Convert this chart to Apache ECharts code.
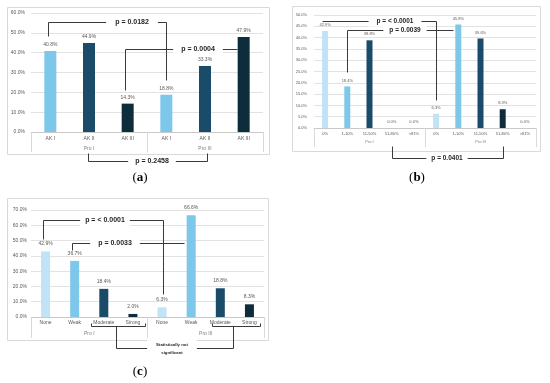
<!DOCTYPE html>
<html><head><meta charset="utf-8">
<script src="https://cdn.jsdelivr.net/npm/echarts@6/dist/echarts.min.js"></script>
<style>html,body{margin:0;padding:0;background:#fff}#c{width:550px;height:383px}</style>
</head><body><div id="c"></div>
<script>
// ---------- data ----------
const categoriesA = ['AK I','AK II','AK III','AK I','AK II','AK III'];
const groupsA = ['Pro I','Pro III'];
const valuesA = [40.8, 44.9, 14.3, 18.8, 33.3, 47.9];
const yTicksA = [0,10,20,30,40,50,60];

const categoriesB = ['0%','1-10%','11-50%','51-80%','>81%','0%','1-10%','11-50%','51-80%','>81%'];
const groupsB = ['Pro I','Pro III'];
const valuesB = [42.9, 18.4, 38.8, 0.0, 0.0, 6.3, 45.8, 39.6, 8.3, 0.0];
const yTicksB = [0,5,10,15,20,25,30,35,40,45,50];

const categoriesC = ['None','Weak','Moderate','Strong','None','Weak','Moderate','Strong'];
const groupsC = ['Pro I','Pro III'];
const valuesC = [42.9, 36.7, 18.4, 2.0, 6.3, 66.6, 18.8, 8.3];
const yTicksC = [0,10,20,30,40,50,60,70];

const pTextsA = ['p = 0.0182','p = 0.0004','p = 0.2458'];
const pTextsB = ['p = < 0.0001','p = 0.0039','p = 0.0401'];
const pTextsC = ['p = < 0.0001','p = 0.0033','Statistically not\nsignificant'];
const panelLetters = ['a','b','c'];

// ---------- styles ----------
const SH = {pale:'#c0e3f5', sky:'#7dc7ea', mid:'#1a4b69', dark:'#0d2c3c'};
const shadeA = {'AK I':SH.sky,'AK II':SH.mid,'AK III':SH.dark};
const shadeB = {'0%':SH.pale,'1-10%':SH.sky,'11-50%':SH.mid,'51-80%':SH.dark,'>81%':SH.dark};
const shadeC = {'None':SH.pale,'Weak':SH.sky,'Moderate':SH.mid,'Strong':SH.dark};
const FONT = '"Liberation Sans", Arial, sans-serif';

// bracket geometry (category index, value units)
const annA = [
  {paths:[[[-0.06,48.4],[-0.06,55.5],[3,55.5],[3,26.2]]], at:[2.11,55.5], pad:9},
  {paths:[[[1.93,21.2],[1.93,41.9],[4.84,41.9]]], at:[3.81,41.9], pad:8},
  {paths:[[[0.97,-10.6],[0.97,-14.6],[4.05,-14.6],[4.05,-10.6]]], at:[2.62,-14.6], pad:7}
];
const annB = [
  {paths:[[[-0.14,47.3],[5,47.3],[5,12.4]]], at:[3.15,47.3], pad:8},
  {paths:[[[1,24.8],[1,43.4],[5.76,43.4]]], at:[3.6,43.4], pad:6},
  {paths:[[[3,-8],[3,-13.3],[8,-13.3],[8,-8]]], at:[5.51,-13.3], pad:5}
];
const annC = [
  {paths:[[[-0.09,51.0],[-0.09,63.4],[4.04,63.4],[4.04,15]]], at:[2.03,63.4], pad:5},
  {paths:[[[0.9,43.8],[0.9,48.4],[4.76,48.4]]], at:[2.39,48.4], pad:8},
  {paths:[[[1.56,-3.9],[1.56,-5.9],[3.42,-5.9],[3.42,-3.9]],
          [[2.42,-5.9],[2.42,-20.3],[6.44,-20.3],[6.44,-5.9]],
          [[5.72,-3.9],[5.72,-5.9],[7.37,-5.9],[7.37,-3.9]]], at:[4.35,-20.3], pad:9, small:true}
];

const panels = [
  {cats:categoriesA, groups:groupsA, vals:valuesA, ticks:yTicksA, shade:shadeA, ann:annA, texts:pTextsA},
  {cats:categoriesB, groups:groupsB, vals:valuesB, ticks:yTicksB, shade:shadeB, ann:annB, texts:pTextsB},
  {cats:categoriesC, groups:groupsC, vals:valuesC, ticks:yTicksC, shade:shadeC, ann:annC, texts:pTextsC}
];
const layout = [
  {grid:{left:31,right:287,top:13,bottom:251}, barWidth:12, yMargin:6, catMargin:4, grpMargin:14, grpTick:20, font:5, lblDist:4, pFont:7,
   frame:[7,7,262,147], letter:[140,178]},
  {grid:{left:314,right:14,top:15,bottom:255}, barWidth:6, yMargin:7, catMargin:4, grpMargin:12, grpTick:19, font:4, lblDist:4, pFont:6.5,
   frame:[292,6,248,145], letter:[417,178]},
  {grid:{left:31,right:286,top:210,bottom:66}, barWidth:9, yMargin:4, catMargin:3.5, grpMargin:14, grpTick:21, font:5, lblDist:5, pFont:7,
   frame:[7,198,261,142], letter:[140,372]}
];

const chart = echarts.init(document.getElementById('c'), null, {renderer:'canvas'});
const grids=[], xAxes=[], yAxes=[], series=[];
panels.forEach((p,i)=>{
  const L = layout[i];
  grids.push(Object.assign({containLabel:false}, L.grid));
  xAxes.push({type:'category', gridIndex:i, data:p.cats, position:'bottom',
    axisLine:{lineStyle:{color:'#c8c8c8', width:1}}, axisTick:{show:false},
    axisLabel:{interval:0, margin:L.catMargin, fontSize:L.font, color:'#595959', fontFamily:FONT}});
  xAxes.push({type:'category', gridIndex:i, data:p.groups, position:'bottom',
    axisLine:{show:false}, axisTick:{show:true, length:L.grpTick, lineStyle:{color:'#d9d9d9'}},
    axisLabel:{interval:0, margin:L.grpMargin, fontSize:L.font, color:'#7f7f7f', fontFamily:FONT},
    splitLine:{show:false}});
  yAxes.push({type:'value', gridIndex:i, min:p.ticks[0], max:p.ticks[p.ticks.length-1],
    interval:p.ticks[1]-p.ticks[0], axisLine:{show:false}, axisTick:{show:false},
    splitLine:{lineStyle:{color:'#e2e2e2', width:1}},
    axisLabel:{margin:L.yMargin, fontSize:L.font, color:'#595959', fontFamily:FONT, formatter:v=>v.toFixed(1)+'%'}});
  series.push({type:'bar', xAxisIndex:i*2, yAxisIndex:i, barWidth:L.barWidth,
    data:p.vals.map((v,k)=>({value:v, itemStyle:{color:p.shade[p.cats[k]]}})),
    label:{show:true, position:'top', distance:L.lblDist, fontSize:L.font, color:'#595959', fontFamily:FONT,
      formatter:d=>d.value.toFixed(1)+'%'}});
});

chart.setOption({animation:false, backgroundColor:'#fff', grid:grids, xAxis:xAxes, yAxis:yAxes, series:series});

function toPx(i, c, v){
  const a = chart.convertToPixel({seriesIndex:i}, [0, v]);
  const b = chart.convertToPixel({seriesIndex:i}, [1, v]);
  return [a[0] + c*(b[0]-a[0]), a[1]];
}
function snap(p){ return [Math.round(p[0])+0.5, Math.round(p[1])+0.5]; }

const els = [];
panels.forEach((p,i)=>{
  const L = layout[i];
  els.push({type:'rect', shape:{x:L.frame[0]+0.5, y:L.frame[1]+0.5, width:L.frame[2], height:L.frame[3]},
    style:{fill:'none', stroke:'#d9d9d9', lineWidth:1}, z:0, silent:true});
  els.push({type:'text', x:L.letter[0], y:L.letter[1],
    style:{text:'{p|(}{b|'+panelLetters[i]+'}{p|)}', align:'center', verticalAlign:'middle', fill:'#000',
      rich:{p:{fontFamily:'"Liberation Serif", serif', fontSize:13, fill:'#000'},
            b:{fontFamily:'"Liberation Serif", serif', fontSize:13, fontWeight:'bold', fill:'#000'}}}, z:20});
  p.ann.forEach((a,k)=>{
    a.paths.forEach(path=>{
      els.push({type:'polyline', shape:{points:path.map(([c,v])=>snap(toPx(i,c,v)))},
        style:{stroke:'#3a3a3a', lineWidth:1, fill:'none'}, z:10, silent:true});
    });
    const t = toPx(i, a.at[0], a.at[1]);
    const fs = a.small ? 4.3 : L.pFont;
    els.push({type:'text', x:Math.round(t[0]), y:Math.round(t[1])+0.5,
      style:{text:p.texts[k], fontFamily:FONT, fontWeight:'bold', fontSize:fs, fill:'#1f1f1f',
        align:'center', verticalAlign:'middle', backgroundColor:'#fff', padding:[1,a.pad],
        lineHeight: a.small ? 8 : fs+2}, z:11});
  });
});
chart.setOption({graphic:els});
</script>
</body></html>
